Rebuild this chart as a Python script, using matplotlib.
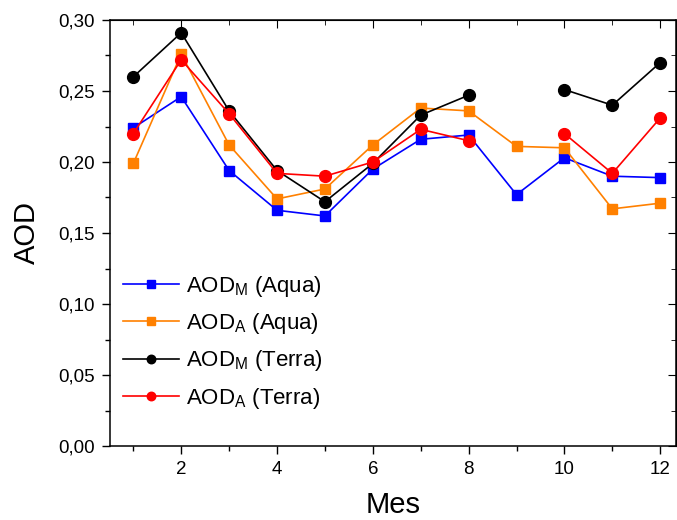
import numpy as np
import matplotlib
matplotlib.use("Agg")
import matplotlib.pyplot as plt
from matplotlib.ticker import MultipleLocator, FuncFormatter

plt.rcParams['font.family'] = ['Liberation Sans', 'DejaVu Sans']
plt.rcParams['mathtext.fontset'] = 'custom'
plt.rcParams['mathtext.rm'] = 'Liberation Sans'

# monthly AOD values (nan = no data)
meses = [1, 2, 3, 4, 5, 6, 7, 8, 9, 10, 11, 12]
aod_m_aqua = [0.224, 0.246, 0.194, 0.166, 0.162, 0.195, 0.216, 0.219, 0.177, 0.203, 0.190, 0.189]
aod_a_aqua = [0.199, 0.276, 0.212, 0.174, 0.181, 0.212, 0.238, 0.236, 0.211, 0.210, 0.167, 0.171]
aod_m_terra = [0.260, 0.291, 0.236, 0.194, 0.172, 0.199, 0.233, 0.247, np.nan, 0.251, 0.240, 0.270]
aod_a_terra = [0.220, 0.272, 0.234, 0.192, 0.190, 0.200, 0.223, 0.215, np.nan, 0.220, 0.192, 0.231]

fig = plt.figure(figsize=(6.77, 5.2), dpi=100)
ax = fig.add_axes([110/677, 1 - 446/520, 566/677, 426/520])

ax.plot(meses, aod_m_aqua, '-s', color='#0000FF', lw=1.2, ms=7.5,
        label=r'AOD$_\mathregular{M}$ (Aqua)')
ax.plot(meses, aod_a_aqua, '-s', color='#FF8000', lw=1.2, ms=7.5,
        label=r'AOD$_\mathregular{A}$ (Aqua)')
ax.plot(meses, aod_m_terra, '-o', color='#000000', lw=1.2, ms=8.5,
        label=r'AOD$_\mathregular{M}$ (Terra)')
ax.plot(meses, aod_a_terra, '-o', color='#FF0000', lw=1.2, ms=8.5,
        label=r'AOD$_\mathregular{A}$ (Terra)')

ax.set_xlim(0.513, 12.33)
ax.set_ylim(0, 0.30)
ax.xaxis.set_major_locator(MultipleLocator(2))
ax.xaxis.set_minor_locator(MultipleLocator(1))
ax.yaxis.set_major_locator(MultipleLocator(0.05))
ax.yaxis.set_minor_locator(MultipleLocator(0.025))
ax.yaxis.set_major_formatter(FuncFormatter(lambda v, p: f"{v:.2f}".replace('.', ',')))

ax.tick_params(which='both', direction='out', labelsize=13.5, width=1)
ax.tick_params(which='major', length=6, pad=5)
ax.tick_params(which='minor', length=3.5)
for s in ax.spines.values():
    s.set_linewidth(1.1)

# top/right ticks pointing inward, no labels
axt = ax.secondary_xaxis('top')
axt.xaxis.set_major_locator(MultipleLocator(2))
axt.xaxis.set_minor_locator(MultipleLocator(1))
axt.tick_params(which='both', direction='in', labeltop=False)
axt.tick_params(which='major', length=6)
axt.tick_params(which='minor', length=3.5)
axr = ax.secondary_yaxis('right')
axr.yaxis.set_major_locator(MultipleLocator(0.05))
axr.yaxis.set_minor_locator(MultipleLocator(0.025))
axr.tick_params(which='both', direction='in', labelright=False)
axr.tick_params(which='major', length=6)
axr.tick_params(which='minor', length=3.5)

ax.set_xlabel('Mes', fontsize=21, labelpad=9)
ax.set_ylabel('AOD', fontsize=21, labelpad=12)

leg = ax.legend(loc='upper left', bbox_to_anchor=(0.0, 0.435), frameon=False,
                fontsize=16, handlelength=2.5, labelspacing=0.55,
                handletextpad=0.3, borderaxespad=0.2, markerscale=0.72)

fig.savefig('out.png', dpi=100)
